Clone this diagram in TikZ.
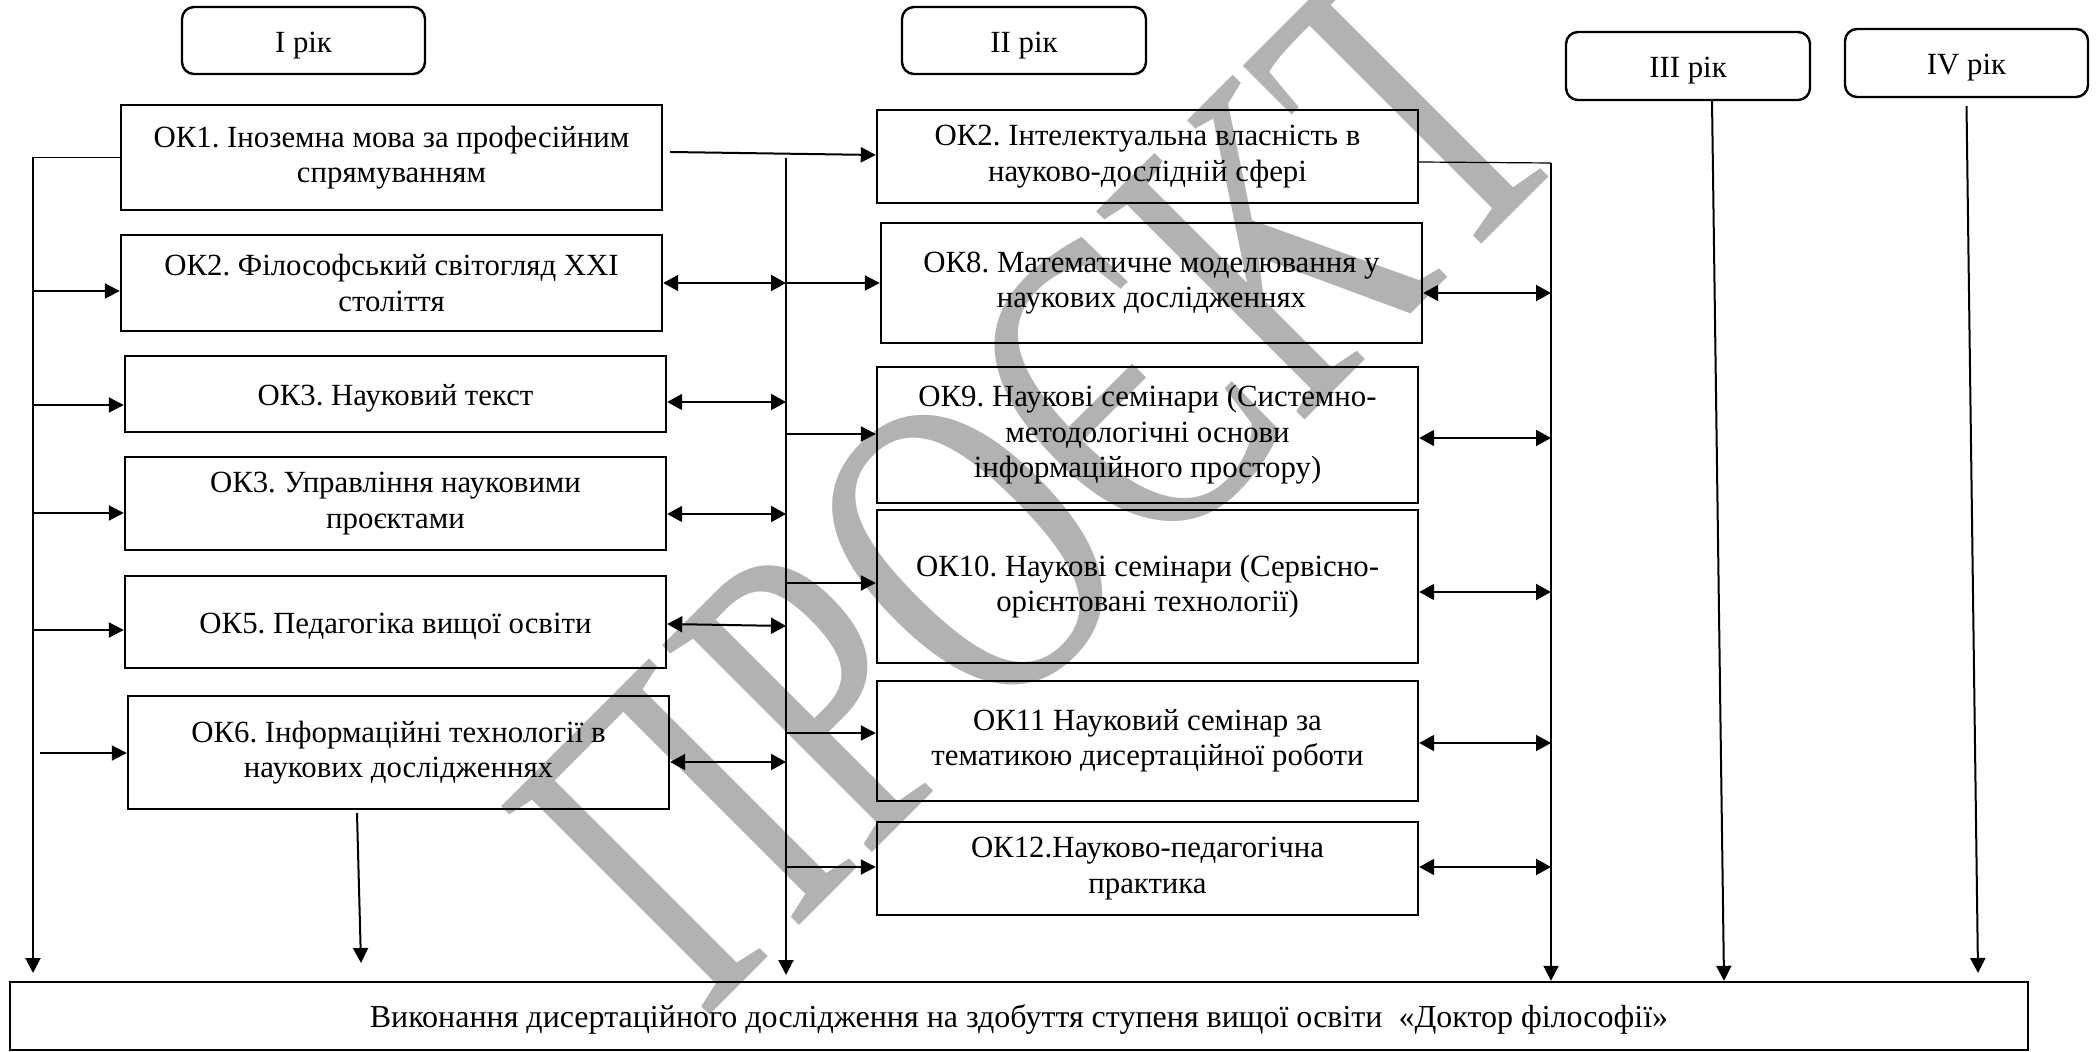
\documentclass[tikz,border=0pt]{standalone}
\usepackage{fontspec}
\setmainfont{Liberation Serif}
\usetikzlibrary{arrows.meta,calc}
\frenchspacing
\newcommand{\boxfont}{\fontsize{15.4pt}{17.7pt}\selectfont}
\newcommand{\botfont}{\fontsize{16pt}{18pt}\selectfont}
\newcommand{\wmfont}{\fontsize{225pt}{230pt}\selectfont}
\newcommand{\topstrut}{\rule{0pt}{15pt}}
\tikzset{
  box/.style={draw, line width=1.2pt, inner sep=0pt, align=center, font=\boxfont, execute at begin node=\topstrut},
  yearbox/.style={box, rounded corners=6pt},
  arr/.style={line width=1pt, -{Triangle[length=7.5pt,width=7.5pt]}},
  darr/.style={line width=1pt, {Triangle[length=7.5pt,width=8pt]}-{Triangle[length=7.5pt,width=8pt]}},
  thinconn/.style={line width=0.6pt},
  wm/.style={text=black!30, font=\wmfont, inner sep=0pt}
}
\begin{document}
\begin{tikzpicture}[x=0.5pt,y=-0.5pt]
\useasboundingbox (0,0) rectangle (2096,1052);
% watermark
\node[wm, rotate=45] (wmark) at (1040,478) {\scalebox{0.7}[1]{ПРОЄКТ}};
% year boxes
\node[yearbox, minimum width=121.5pt, minimum height=33.5pt] (y1) at (303.5,40.5) {I рік};
\node[yearbox, minimum width=122pt, minimum height=33.5pt] (y2) at (1024,40.5) {II рік};
\node[yearbox, minimum width=122pt, minimum height=34pt] (y3) at (1688,66) {III рік};
\node[yearbox, minimum width=121.5pt, minimum height=34pt] (y4) at (1966.5,63) {IV рік};
% left column
\node[box, minimum width=270.5pt, minimum height=52.5pt] (ok1) at (391.5,157.5) {ОК1. Іноземна мова за професійним\\спрямуванням};
\node[box, minimum width=270.5pt, minimum height=48pt] (ok2) at (391.5,283) {ОК2. Філософський світогляд XXI\\століття};
\node[box, minimum width=270.5pt, minimum height=38pt] (ok3) at (395.5,394) {ОК3. Науковий текст};
\node[box, minimum width=270.5pt, minimum height=46.5pt] (ok4) at (395.5,503.5) {ОК3. Управління науковими\\проєктами};
\node[box, minimum width=270.5pt, minimum height=46pt] (ok5) at (395.5,622) {ОК5. Педагогіка вищої освіти};
\node[box, minimum width=270.5pt, minimum height=56.5pt] (ok6) at (398.5,752.5) {ОК6. Інформаційні технології в\\наукових дослідженнях};
% right column
\node[box, minimum width=270.5pt, minimum height=46.5pt] (r1) at (1147.5,156.5) {ОК2. Інтелектуальна власність в\\науково-дослідній сфері};
\node[box, minimum width=270.5pt, minimum height=60pt] (r2) at (1151.5,283) {ОК8. Математичне моделювання у\\наукових дослідженнях};
\node[box, minimum width=270.5pt, minimum height=68pt] (r3) at (1147.5,435) {ОК9. Наукові семінари (Системно-\\методологічні основи\\інформаційного простору)};
\node[box, minimum width=270.5pt, minimum height=76.5pt] (r4) at (1147.5,586.5) {ОК10. Наукові семінари (Сервісно-\\орієнтовані технології)};
\node[box, minimum width=270.5pt, minimum height=60pt] (r5) at (1147.5,741) {ОК11 Науковий семінар за\\тематикою дисертаційної роботи};
\node[box, minimum width=270.5pt, minimum height=46.5pt] (r6) at (1147.5,868.5) {ОК12.Науково-педагогічна\\практика};
% bottom box
\node[box, font=\botfont, execute at begin node={}, minimum width=1009pt, minimum height=34pt] (bot) at (1019,1016) {Виконання дисертаційного дослідження на здобуття ступеня вищої освіти\ \ «Доктор філософії»};
% trunk coordinates
\coordinate (lbot) at (33,973);
\coordinate (mtop) at (786,158);
\coordinate (mbot) at (786,975);
\coordinate (rtop) at (1551,163);
% left trunk
\draw[thinconn] (ok1.west) -- (ok1.west -| lbot);
\draw[arr] (ok1.west -| lbot) -- (lbot);
\coordinate (a2) at ([yshift=-4pt]ok2.west);
\coordinate (a3) at ([yshift=-5.5pt]ok3.west);
\coordinate (a4) at ([yshift=-4.75pt]ok4.west);
\coordinate (a5) at ([yshift=-4pt]ok5.west);
\draw[arr] (a2 -| lbot) -- (a2);
\draw[arr] (a3 -| lbot) -- (a3);
\draw[arr] (a4 -| lbot) -- (a4);
\draw[arr] (a5 -| lbot) -- (a5);
\coordinate (a6s) at (40,753);
\draw[arr] (a6s) -- (a6s -| ok6.west);
% left column to middle trunk
\coordinate (b2) at (ok2.east);
\coordinate (b3) at ([yshift=-4pt]ok3.east);
\coordinate (b4) at ([yshift=-5.25pt]ok4.east);
\coordinate (b5) at ([yshift=-1pt]ok5.east);
\coordinate (b6) at ([yshift=-4.75pt]ok6.east);
\draw[darr] (b2) -- (b2 -| mtop);
\draw[darr] (b3) -- (b3 -| mtop);
\draw[darr] (b4) -- (b4 -| mtop);
\draw[darr] (b5) -- ([yshift=-1pt]b5 -| mtop);
\draw[darr] (b6) -- (b6 -| mtop);
% middle trunk
\draw[arr] (mtop) -- (mbot);
\coordinate (c1s) at ([xshift=3.5pt,yshift=2.75pt]ok1.east);
\coordinate (c1e) at ([yshift=0.75pt]r1.west);
\draw[arr] (c1s) -- (c1e);
\coordinate (c2) at (r2.west);
\coordinate (c3) at ([yshift=0.5pt]r3.west);
\coordinate (c4) at ([yshift=1.75pt]r4.west);
\coordinate (c5) at ([yshift=4pt]r5.west);
\coordinate (c6) at ([yshift=0.75pt]r6.west);
\draw[arr] (c2 -| mtop) -- (c2);
\draw[arr] (c3 -| mtop) -- (c3);
\draw[arr] (c4 -| mtop) -- (c4);
\draw[arr] (c5 -| mtop) -- (c5);
\draw[arr] (c6 -| mtop) -- (c6);
% right trunk
\draw[thinconn] ([yshift=-2.75pt]r1.east) -- (rtop);
\draw[arr] (rtop) -- (rtop |- bot.north);
\coordinate (d2) at ([yshift=-5pt]r2.east);
\coordinate (d3) at ([yshift=-1.5pt]r3.east);
\coordinate (d4) at ([yshift=-2.75pt]r4.east);
\coordinate (d5) at ([yshift=-1pt]r5.east);
\coordinate (d6) at ([yshift=0.75pt]r6.east);
\draw[darr] (d2) -- (d2 -| rtop);
\draw[darr] (d3) -- (d3 -| rtop);
\draw[darr] (d4) -- (d4 -| rtop);
\draw[darr] (d5) -- (d5 -| rtop);
\draw[darr] (d6) -- (d6 -| rtop);
% year III and IV lines
\coordinate (y3a) at ([xshift=12pt]y3.south);
\coordinate (y3b) at ([xshift=18pt]y3.south);
\draw[arr] (y3a) -- (y3b |- bot.north);
\coordinate (y4a) at ([yshift=-4pt]y4.south);
\coordinate (y4b) at (1978,973);
\draw[arr] (y4a) -- (y4b);
% OK6 down
\coordinate (o6a) at ([xshift=-20.75pt,yshift=-1.5pt]ok6.south);
\coordinate (o6b) at (361,963);
\draw[arr] (o6a) -- (o6b);
\end{tikzpicture}
\end{document}
